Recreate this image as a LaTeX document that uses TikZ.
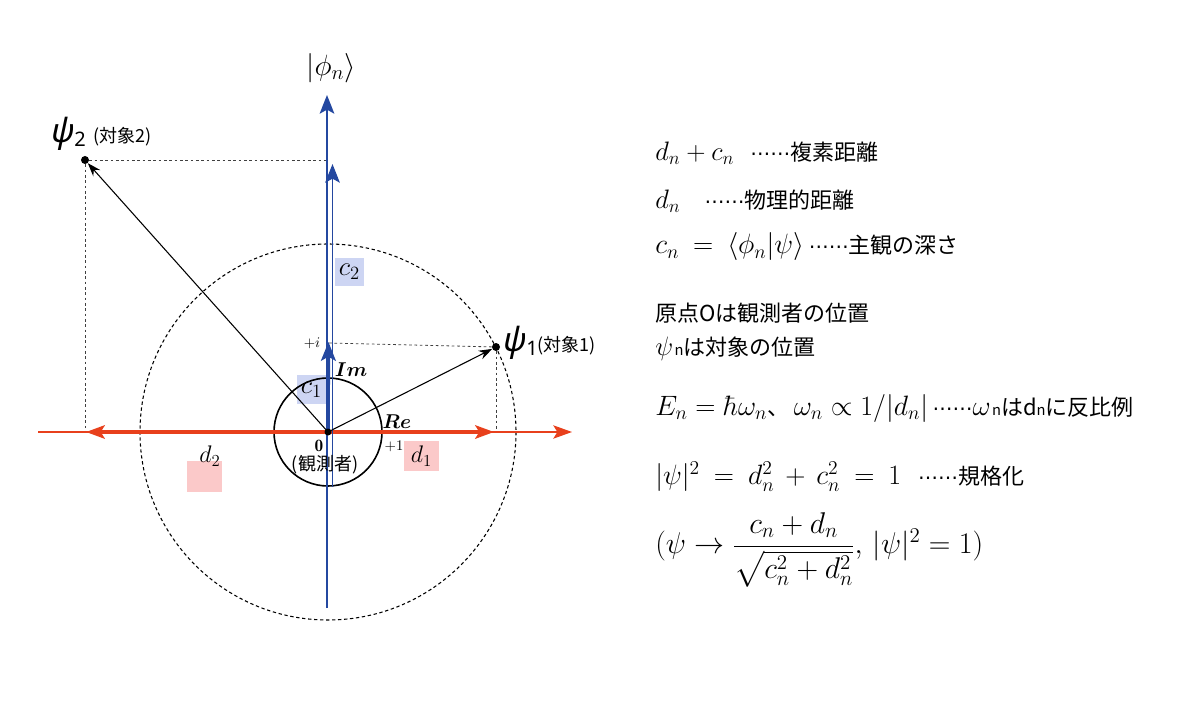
\RequirePackage{fix-cm}
\documentclass[tikz,border=0pt]{standalone}
\usepackage{amsmath,amssymb}
\usepackage{fontspec}
\newfontfamily\jp{Noto Sans CJK JP}
\newfontfamily\gk{Noto Sans}
\newfontfamily\dvs{DejaVu Sans}
\usetikzlibrary{arrows.meta}
\definecolor{ared}{HTML}{E8401C}
\definecolor{ablue}{HTML}{2448A0}
\definecolor{cbox}{HTML}{CDD5F3}
\definecolor{dbox}{HTML}{FBC9C9}
\newcommand{\jpt}{\jp\fontsize{16.5}{20}\selectfont}
\newcommand{\jpsub}{\jp\fontsize{11}{13}\selectfont}
\newcommand{\dotsix}{{\dvs\fontsize{15}{18}\selectfont ⋯⋯}}
\newcommand{\widesp}{\thickmuskip=9mu plus 2mu\medmuskip=7mu plus 2mu}
\tikzset{
  dashline/.style={black!75, line width=0.6pt, dash pattern=on 2pt off 2pt},
  vec/.style={black, line width=0.8pt, -{Stealth[length=10pt,width=7pt]}},
  bluearrow/.style={-{Stealth[length=14pt,width=11pt,inset=3pt]}},
  redarrow/.style={-{Stealth[length=14pt,width=10pt,inset=3pt]}},
  pt/.style={circle, fill=black, inner sep=0pt, minimum size=6pt},
  cboxs/.style={fill=cbox, inner sep=0pt, minimum width=22pt, minimum height=21pt},
  dboxs/.style={fill=dbox, inner sep=0pt, minimum width=26pt, minimum height=23pt},
  rtext/.style={anchor=west, inner sep=0pt, font=\fontsize{20}{23}\selectfont},
}
\begin{document}
\begin{tikzpicture}[x=0.75pt,y=-0.75pt]
\useasboundingbox (0,0) rectangle (1200,702);
\coordinate (O) at (328,432);
% label boxes
\node[cboxs] (c1box) at (311.5,389.5) {};
\node[cboxs] (c2box) at (349.5,272) {};
\node[dboxs] (d1box) at (421.5,456) {};
\node[dboxs] (d2box) at (204.5,476.5) {};
% circles
\draw[black, line width=0.8pt, dash pattern=on 2.5pt off 2pt] (O) circle[radius=188];
\draw[black, line width=1.2pt] (O) circle[radius=54];
% points
\node[pt] (p1) at (496,347) {};
\node[pt] (p2) at (85,160) {};
\coordinate (p1x) at (496,432);
\coordinate (p1y) at (328,343);
\coordinate (p2x) at (85,432);
\coordinate (p2y) at (327,160);
\draw[dashline] (p1) -- (p1x);
\draw[dashline] (p1) -- (p1y);
\draw[dashline] (p2) -- (p2x);
\draw[dashline] (p2) -- (p2y);
% red axis
\coordinate (rl) at (38,432);
\coordinate (rr) at (572,432);
\coordinate (rl2) at (86,432);
\coordinate (rr2) at (494,432);
\draw[ared, line width=1.2pt, redarrow] (rl) -- (rr);
\draw[ared, line width=3pt, redarrow] (O) -- (rr2);
\draw[ared, line width=3pt, redarrow] (O) -- (rl2);
% blue axis
\coordinate (b0) at (327,608);
\coordinate (b1) at (327,95);
\coordinate (b2a) at (332.5,487);
\coordinate (b2) at (332.5,164);
\coordinate (b3) at (328.5,342);
\draw[ablue, line width=1.3pt, bluearrow] (b0) -- (b1);
\draw[ablue, line width=1.3pt, bluearrow] (b2a) -- (b2);
\draw[ablue, line width=2.6pt, bluearrow] (O) -- (b3);
% vectors
\draw[vec] (O) -- (p1);
\draw[vec] (O) -- (p2);
\fill (O) circle[radius=3.5];
% labels on diagram
\node (phin) at (331,68) {\fontsize{22}{25}\selectfont $|\phi_n\rangle$};
\node[anchor=base west, inner sep=0pt] (psi2l) at (51,143) {{\gk\fontsize{25}{28}\selectfont\itshape ψ}{\gk\fontsize{15}{17}\selectfont\raisebox{-3pt}{2}}\hspace{6pt}{\jp\fontsize{13.5}{16}\selectfont (対象2)}};
\node[anchor=base west, inner sep=0pt] (psi1l) at (503,352) {{\gk\fontsize{25}{28}\selectfont\itshape ψ}{\gk\fontsize{15}{17}\selectfont\raisebox{-3pt}{1}}{\jp\fontsize{13.5}{16}\selectfont (対象1)}};
\node (ilab) at (312,343) {\fontsize{11}{13}\selectfont $+i$};
\node (imlab) at (351,370) {\fontsize{15}{17}\selectfont $\boldsymbol{Im}$};
\node (relab) at (397,422) {\fontsize{15}{17}\selectfont $\boldsymbol{Re}$};
\node (onelab) at (394,446) {\fontsize{11}{13}\selectfont $+1$};
\node (zerolab) at (319,446) {\fontsize{13}{15}\selectfont $\mathbf{0}$};
\node (obs) at (325,465) {\jp\fontsize{13.5}{16}\selectfont (観測者)};
\node (c1) at (c1box) {\fontsize{20}{22}\selectfont $c_{\scriptstyle 1}$};
\node (c2) at (c2box) {\fontsize{20}{22}\selectfont $c_{\scriptstyle 2}$};
\node (d1) at (d1box) {\fontsize{18}{20}\selectfont $d_{\scriptstyle 1}$};
\node (d2) at (210,456) {\fontsize{18}{20}\selectfont $d_{\scriptstyle 2}$};
% right side text
\node[rtext] (t1) at (655,153) {$d_n + c_n$\ \ \dotsix{\jpt 複素距離}};
\node[rtext] (t2) at (655,201) {$d_n$\ \ \ \dotsix{\jpt 物理的距離}};
\node[rtext, font=\fontsize{21}{24}\selectfont] (t3) at (655,247) {$\widesp c_n = \langle \phi_n | \psi \rangle$\,\dotsix{\jpt 主観の深さ}};
\node[rtext] (t4) at (655,313) {\jpt 原点Oは観測者の位置};
\node[rtext] (t5) at (655,349) {$\psi$\hspace{1pt}{\jpsub n}{\jpt は対象の位置}};
\node[rtext, font=\fontsize{21}{24}\selectfont] (t6) at (655,408) {$E_n = \hbar\omega_n${\jpt 、}\,$\omega_n \propto 1/|d_n|$\,\dotsix$\omega$\hspace{1pt}{\jpsub n}{\jpt は}{\jpt d}{\jpsub n}{\jpt に反比例}};
\node[rtext, font=\fontsize{21}{24}\selectfont] (t7) at (655,477) {$\widesp |\psi|^2 = d_n^2 + c_n^2 = 1$\ \ \dotsix{\jpt 規格化}};
\node[rtext, font=\fontsize{22.5}{26}\selectfont] (t8) at (655,550) {$(\psi \to \dfrac{c_n + d_n}{\sqrt{c_n^2 + d_n^2}},\, |\psi|^2 = 1)$};
\end{tikzpicture}
\end{document}
